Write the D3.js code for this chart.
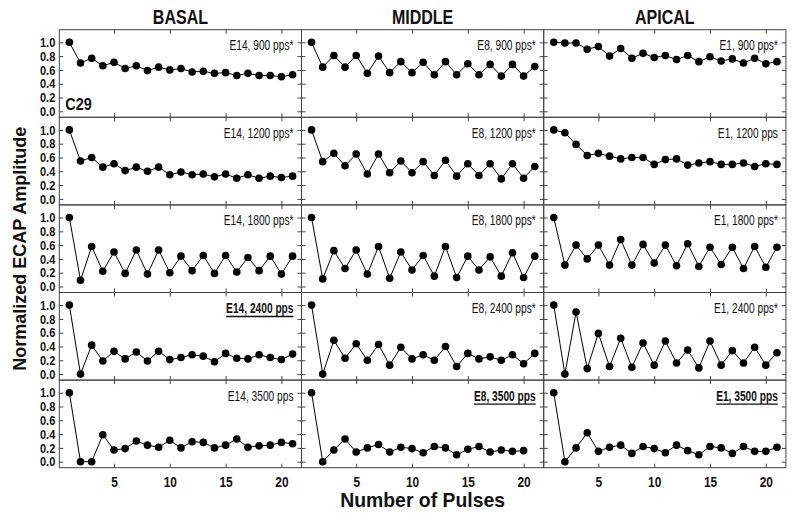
<!DOCTYPE html>
<html><head><meta charset="utf-8">
<script src="https://cdn.jsdelivr.net/npm/d3@7"></script>
<style>body{margin:0;background:#fff}svg{display:block}</style>
</head><body>
<svg id="c" width="795" height="517"></svg>
<script>
// ---- data ----
const columns = ["BASAL", "MIDDLE", "APICAL"];
const rates = [900, 1200, 1800, 2400, 3500];
const panelLabels = [
  ["E14, 900 pps*", "E8, 900 pps*", "E1, 900 pps*"],
  ["E14, 1200 pps*", "E8, 1200 pps*", "E1, 1200 pps"],
  ["E14, 1800 pps*", "E8, 1800 pps*", "E1, 1800 pps*"],
  ["E14, 2400 pps", "E8, 2400 pps*", "E1, 2400 pps*"],
  ["E14, 3500 pps", "E8, 3500 pps", "E1, 3500 pps"]
];
const boldLabels = [
  [false, false, false],
  [false, false, false],
  [false, false, false],
  [true, false, false],
  [false, true, true]
];
const xTicks = [5, 10, 15, 20];
const yTicks = [0, 0.2, 0.4, 0.6, 0.8, 1.0];

const basal900  = [1.0,0.70,0.77,0.66,0.71,0.62,0.66,0.59,0.64,0.60,0.62,0.57,0.58,0.55,0.56,0.52,0.55,0.52,0.52,0.50,0.53];
const middle900 = [1.0,0.64,0.81,0.64,0.81,0.55,0.80,0.56,0.72,0.56,0.71,0.53,0.72,0.53,0.69,0.53,0.68,0.51,0.68,0.51,0.65];
const apical900 = [1.0,0.99,0.99,0.90,0.94,0.80,0.91,0.77,0.84,0.78,0.81,0.75,0.81,0.72,0.79,0.73,0.76,0.70,0.77,0.69,0.72];

const basal1200  = [1.0,0.55,0.60,0.46,0.51,0.41,0.46,0.40,0.46,0.35,0.39,0.35,0.36,0.32,0.36,0.30,0.35,0.30,0.33,0.31,0.33];
const middle1200 = [1.0,0.54,0.66,0.48,0.65,0.36,0.65,0.38,0.55,0.38,0.54,0.34,0.56,0.33,0.51,0.34,0.51,0.29,0.51,0.30,0.47];
const apical1200 = [1.0,0.96,0.79,0.63,0.66,0.62,0.58,0.60,0.60,0.50,0.57,0.58,0.49,0.52,0.54,0.50,0.50,0.52,0.47,0.51,0.50];

const basal1800  = [1.0,0.09,0.58,0.22,0.50,0.19,0.53,0.18,0.53,0.20,0.44,0.23,0.45,0.19,0.45,0.21,0.42,0.23,0.44,0.18,0.44];
const middle1800 = [1.0,0.11,0.52,0.26,0.53,0.18,0.58,0.12,0.50,0.24,0.45,0.15,0.58,0.13,0.44,0.24,0.43,0.15,0.49,0.13,0.44];
const apical1800 = [1.0,0.31,0.60,0.40,0.60,0.31,0.68,0.31,0.61,0.34,0.60,0.30,0.62,0.29,0.57,0.32,0.57,0.26,0.58,0.28,0.57];

const basal2400  = [1.0,0.0,0.42,0.19,0.33,0.22,0.32,0.19,0.33,0.21,0.24,0.28,0.26,0.18,0.30,0.23,0.22,0.28,0.24,0.21,0.29];
const middle2400 = [1.0,0.0,0.49,0.23,0.44,0.20,0.43,0.13,0.39,0.22,0.28,0.20,0.40,0.11,0.30,0.22,0.25,0.20,0.28,0.15,0.30];
const apical2400 = [1.0,0.0,0.90,0.08,0.59,0.11,0.52,0.10,0.45,0.13,0.48,0.16,0.35,0.09,0.48,0.13,0.34,0.16,0.39,0.13,0.31];

const basal3500  = [1.0,0.0,0.0,0.39,0.17,0.19,0.30,0.24,0.21,0.31,0.20,0.29,0.28,0.20,0.24,0.33,0.21,0.23,0.24,0.28,0.26];
const middle3500 = [1.0,0.0,0.17,0.33,0.14,0.20,0.25,0.14,0.21,0.19,0.13,0.22,0.20,0.10,0.18,0.22,0.14,0.17,0.15,0.16];
const apical3500 = [1.0,0.0,0.20,0.42,0.15,0.21,0.24,0.12,0.22,0.19,0.13,0.24,0.16,0.10,0.22,0.20,0.12,0.22,0.15,0.15,0.21];

const grid = [
  [basal900, middle900, apical900],
  [basal1200, middle1200, apical1200],
  [basal1800, middle1800, apical1800],
  [basal2400, middle2400, apical2400],
  [basal3500, middle3500, apical3500]
];

// ---- layout ----
const mLeft = 59.3, mTop = 29.7, PW = 242.2, PH = 87.6;
const font = "'Liberation Sans',Arial,sans-serif";
const svg = d3.select("#c");

const x = d3.scaleLinear().domain([0.1, 21.8]).range([0, PW]);
const y = d3.scaleLinear().domain([-0.087, 1.183]).range([PH, 0]);
const line = d3.line().x((d, i) => x(i + 1)).y(d => y(d));

// condensed text helper
function ntext(parent, px, py, str, size, weight, anchor, sx) {
  return parent.append("text")
    .attr("transform", `translate(${px},${py}) scale(${sx},1)`)
    .attr("text-anchor", anchor).attr("font-family", font)
    .attr("font-size", size).attr("font-weight", weight)
    .attr("fill", "#111").text(str);
}

grid.forEach((row, r) => {
  row.forEach((vals, c) => {
    const g = svg.append("g").attr("transform", `translate(${mLeft + c * PW},${mTop + r * PH})`);
    // inward ticks on all 4 sides
    g.append("g").attr("transform", `translate(0,${PH})`)
      .call(d3.axisTop(x).tickValues(xTicks).tickSize(4).tickFormat(""))
      .call(a => a.select(".domain").remove());
    g.append("g")
      .call(d3.axisBottom(x).tickValues(xTicks).tickSize(4).tickFormat(""))
      .call(a => a.select(".domain").remove());
    g.append("g")
      .call(d3.axisRight(y).tickValues(yTicks).tickSize(4).tickFormat(""))
      .call(a => a.select(".domain").remove());
    g.append("g").attr("transform", `translate(${PW},0)`)
      .call(d3.axisLeft(y).tickValues(yTicks).tickSize(4).tickFormat(""))
      .call(a => a.select(".domain").remove());
    g.selectAll(".tick line").attr("stroke", "#444");
    g.append("rect").attr("width", PW).attr("height", PH)
      .attr("fill", "none").attr("stroke", "#444").attr("stroke-width", 1);

    g.append("path").datum(vals).attr("d", line)
      .attr("fill", "none").attr("stroke", "#000").attr("stroke-width", 1);
    g.selectAll("circle").data(vals).join("circle")
      .attr("cx", (d, i) => x(i + 1)).attr("cy", d => y(d)).attr("r", 3.8).attr("fill", "#000");

    const bold = boldLabels[r][c];
    const sx = 0.68;
    const t = ntext(g, PW - 8, 20.5, panelLabels[r][c], 15, bold ? "bold" : "normal", "end", sx);
    if (bold) {
      const w = t.node().getComputedTextLength() * sx;
      g.append("line").attr("x1", PW - 8 - w).attr("x2", PW - 8)
        .attr("y1", 24).attr("y2", 24).attr("stroke", "#111").attr("stroke-width", 1.3);
    }

    if (c === 0) {
      const ys = 0.85;
      g.append("g").call(d3.axisLeft(y).tickValues(yTicks).tickSize(0).tickPadding(4).tickFormat(d3.format(".1f")))
        .call(a => a.select(".domain").remove())
        .selectAll("text").attr("font-family", font).attr("font-size", 13)
        .attr("font-weight", "bold").attr("fill", "#111")
        .attr("transform", `scale(${ys},1)`).attr("x", -4 / ys);
    }
    if (r === grid.length - 1) {
      g.append("g").attr("transform", `translate(0,${PH})`)
        .call(d3.axisBottom(x).tickValues(xTicks).tickSize(0).tickPadding(9))
        .call(a => a.select(".domain").remove())
        .selectAll("text").attr("font-family", font).attr("font-size", 14)
        .attr("font-weight", "bold").attr("fill", "#111")
        .attr("transform", "scale(0.85,1)");
    }
    if (r === 0 && c === 0) {
      ntext(g, 6, PH - 7, "C29", 17, "bold", "start", 0.85);
    }
  });
});

columns.forEach((name, c) => {
  ntext(svg, mLeft + c * PW + PW / 2, 24, name, 20, "bold", "middle", 0.8);
});

ntext(svg, mLeft + 1.5 * PW, 507, "Number of Pulses", 20, "bold", "middle", 0.97);

svg.append("text").attr("transform", `translate(26,${mTop + 2.5 * PH}) rotate(-90)`)
  .attr("text-anchor", "middle").attr("font-family", font)
  .attr("font-size", 18).attr("font-weight", "bold").attr("fill", "#111").text("Normalized ECAP Amplitude");
</script>
</body></html>
